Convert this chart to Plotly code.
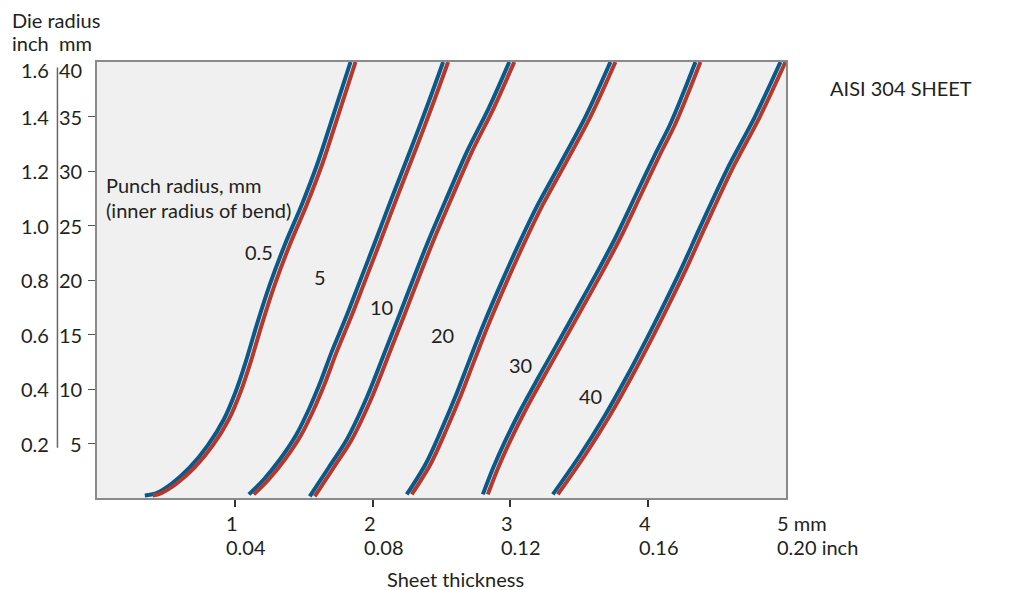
import plotly.graph_objects as go

# ---- data (Sheet thickness mm on x, die radius mm on y) ----
labels = ["0.5", "5", "10", "20", "30", "40"]

y_05 = [0.23, 0.42, 1.33, 2.80, 4.82, 7.20, 9.77, 12.51, 15.91, 19.57, 23.24, 26.91, 30.76, 34.97, 40.0]
blue_05 = [0.347, 0.427, 0.543, 0.673, 0.804, 0.920, 1.007, 1.080, 1.160, 1.254, 1.363, 1.486, 1.602, 1.711, 1.840]
red_05 = [0.405, 0.463, 0.579, 0.709, 0.840, 0.956, 1.043, 1.116, 1.196, 1.290, 1.399, 1.522, 1.638, 1.747, 1.876]

y_5 = [0.33, 1.70, 3.53, 5.73, 8.12, 10.50, 13.43, 16.55, 19.85, 23.42, 27.55, 31.76, 35.89, 40.0]
blue_5 = [1.102, 1.210, 1.327, 1.443, 1.537, 1.617, 1.704, 1.806, 1.907, 2.016, 2.140, 2.270, 2.394, 2.512]
red_5 = [1.138, 1.246, 1.363, 1.479, 1.573, 1.653, 1.740, 1.842, 1.943, 2.052, 2.176, 2.306, 2.430, 2.548]

y_10 = [0.14, 2.80, 5.37, 9.22, 13.62, 16.91, 20.21, 23.70, 27.36, 31.76, 35.80, 40.0]
blue_10 = [1.544, 1.682, 1.813, 1.958, 2.096, 2.198, 2.299, 2.408, 2.532, 2.684, 2.844, 2.992]
red_10 = [1.580, 1.718, 1.849, 1.994, 2.132, 2.234, 2.335, 2.444, 2.568, 2.720, 2.880, 3.028]

y_20 = [0.33, 3.17, 6.37, 9.40, 12.51, 15.98, 19.85, 23.52, 26.91, 30.76, 35.06, 40.0]
blue_20 = [2.248, 2.387, 2.503, 2.604, 2.699, 2.807, 2.938, 3.069, 3.199, 3.366, 3.548, 3.726]
red_20 = [2.284, 2.423, 2.539, 2.640, 2.735, 2.843, 2.974, 3.105, 3.235, 3.402, 3.584, 3.762]

y_30 = [0.33, 2.71, 5.18, 8.12, 11.14, 14.07, 17.19, 20.49, 23.97, 27.82, 31.49, 34.24, 37.08, 40.0]
blue_30 = [2.800, 2.873, 2.960, 3.076, 3.207, 3.337, 3.475, 3.620, 3.766, 3.911, 4.049, 4.158, 4.252, 4.343]
red_30 = [2.836, 2.909, 2.996, 3.112, 3.243, 3.373, 3.511, 3.656, 3.802, 3.947, 4.085, 4.194, 4.288, 4.379]

y_40 = [0.33, 3.90, 7.57, 11.14, 14.62, 17.74, 20.95, 24.80, 30.11, 34.97, 40.0]
blue_40 = [3.308, 3.504, 3.686, 3.845, 3.990, 4.114, 4.237, 4.375, 4.571, 4.774, 4.960]
red_40 = [3.344, 3.540, 3.722, 3.881, 4.026, 4.150, 4.273, 4.411, 4.607, 4.810, 4.996]

label_x = [1.174, 1.617, 2.067, 2.506, 3.071, 3.584]
label_y = [22.55, 20.26, 17.51, 14.93, 12.24, 9.35]

x_ticks = [1, 2, 3, 4, 5]
x_tick_mm = ["1", "2", "3", "4", "5 mm"]
x_tick_inch = ["0.04", "0.08", "0.12", "0.16", "0.20 inch"]

y_ticks = [5, 10, 15, 20, 25, 30, 35, 40]
y_tick_inch = ["0.2", "0.4", "0.6", "0.8", "1.0", "1.2", "1.4", "1.6"]

curves = [
    (y_05, blue_05, red_05),
    (y_5, blue_5, red_5),
    (y_10, blue_10, red_10),
    (y_20, blue_20, red_20),
    (y_30, blue_30, red_30),
    (y_40, blue_40, red_40),
]

BLUE = "#085a8b"
RED = "#b5382d"
TXT = "#231f20"
FONT = "Lato"
FS = 20

fig = go.Figure()
for ys, bx, rx in curves:
    fig.add_trace(go.Scatter(x=bx, y=ys, mode="lines",
                             line=dict(color=BLUE, width=4, shape="spline", smoothing=0.9),
                             hoverinfo="skip", showlegend=False))
    fig.add_trace(go.Scatter(x=rx, y=ys, mode="lines",
                             line=dict(color=RED, width=4, shape="spline", smoothing=0.9),
                             hoverinfo="skip", showlegend=False))


def txt(**kw):
    d = dict(showarrow=False, font=dict(size=FS, color=TXT, family=FONT))
    d.update(kw)
    return d


ann = []
# curve labels
for t, x, y in zip(labels, label_x, label_y):
    ann.append(txt(x=x, y=y, xref="x", yref="y", text=t))

# x tick labels (two lines: mm and inch)
for v, a, b in zip(x_ticks, x_tick_mm, x_tick_inch):
    ann.append(txt(x=v, y=0, xref="x", yref="paper", text=a, xanchor="left",
                   yanchor="middle", xshift=-11, yshift=-25))
    ann.append(txt(x=v, y=0, xref="x", yref="paper", text=b, xanchor="left",
                   yanchor="middle", xshift=-11, yshift=-49))

# y tick labels (mm and inch)
for v, inch in zip(y_ticks, y_tick_inch):
    ys = -8 if v == 40 else 0
    ann.append(txt(x=0, y=v, xref="paper", yref="y", text=str(v),
                   xanchor="right", xshift=-13, yshift=ys))
    ann.append(txt(x=0, y=v, xref="paper", yref="y", text=inch,
                   xanchor="right", xshift=-46, yshift=ys))

ann += [
    txt(x=0, y=1, xref="paper", yref="paper", text="Die radius",
        xanchor="left", yanchor="middle", xshift=-87, yshift=42),
    txt(x=0, y=1, xref="paper", yref="paper", text="inch",
        xanchor="left", yanchor="middle", xshift=-87, yshift=19),
    txt(x=0, y=1, xref="paper", yref="paper", text="mm",
        xanchor="left", yanchor="middle", xshift=-40, yshift=19),
    txt(x=0, y=28.74, xref="paper", yref="y", text="Punch radius, mm",
        xanchor="left", yanchor="middle", xshift=7),
    txt(x=0, y=26.45, xref="paper", yref="y", text="(inner radius of bend)",
        xanchor="left", yanchor="middle", xshift=7),
    txt(x=1, y=1, xref="paper", yref="paper", text="AISI 304 SHEET",
        xanchor="left", yanchor="middle", xshift=42, yshift=-26),
    txt(x=0.5, y=0, xref="paper", yref="paper", text="Sheet thickness",
        xanchor="center", yanchor="middle", xshift=14, yshift=-81),
]

fig.update_layout(
    width=1004, height=582,
    margin=dict(l=89, r=226, t=54, b=92),
    paper_bgcolor="white", plot_bgcolor="#f0f0f0",
    annotations=ann,
    shapes=[dict(type="line", xref="paper", yref="y", x0=-0.0574, x1=-0.0574,
                 y0=4.6, y1=39.5, line=dict(color="#666", width=1.5))],
    showlegend=False,
)
fig.update_xaxes(range=[0, 5], tickvals=[1, 2, 3, 4], showticklabels=False,
                 ticks="outside", ticklen=7, tickcolor="#333", tickwidth=1.5,
                 showline=True, linecolor="#8a8a8a", linewidth=2, mirror=True,
                 showgrid=False, zeroline=False)
fig.update_yaxes(range=[0, 40], tickvals=[5, 10, 15, 20, 25, 30, 35], showticklabels=False,
                 ticks="outside", ticklen=7, tickcolor="#555", tickwidth=1,
                 showline=True, linecolor="#8a8a8a", linewidth=2, mirror=True,
                 showgrid=False, zeroline=False)

fig.write_html("out.html")
